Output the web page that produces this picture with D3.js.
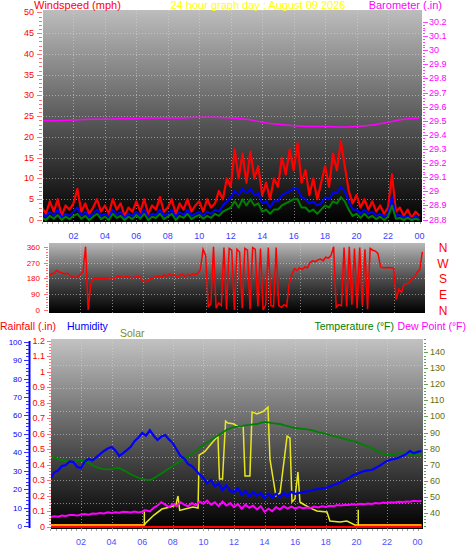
<!DOCTYPE html>
<html><head><meta charset="utf-8">
<script src="https://cdn.jsdelivr.net/npm/d3@7"></script>
<style>body{margin:0;background:#fff;} svg{display:block;font-family:"Liberation Sans",Arial,sans-serif;}</style>
</head><body><svg id="c" width="470" height="554"></svg>
<script>
// ---------- DATA ----------
const hourLabels = ["02","04","06","08","10","12","14","16","18","20","22","00"];
const hourLabelAt = [2,4,6,8,10,12,14,16,18,20,22,24];
const windTicks = [0,5,10,15,20,25,30,35,40,45,50];
const baroTicks = [28.8,28.9,29,29.1,29.2,29.3,29.4,29.5,29.6,29.7,29.8,29.9,30,30.1,30.2];
const dirTicks = [0,90,180,270,360];
const compassLabels = ["N","W","S","E","N"];
const compassDeg = [360,270,180,90,0];
const humTicks = [0,10,20,30,40,50,60,70,80,90,100];
const rainTicks = [0,0.1,0.2,0.3,0.4,0.5,0.6,0.7,0.8,0.9,1,1.1,1.2];
const tempTicks = [40,50,60,70,80,90,100,110,120,130,140];

// wind, 15-minute samples 00:00..24:00 (mph)
const windGust = [3,1.5,4.5,2,5,1,3.5,2.5,4,
  7.5,2,4,1.5,3,5,2,3.5,
  1.5,5,2.5,4,1,3,2,4.5,
  2,5,1.5,3.5,2.5,5.5,2,3,
  5,1.5,4,2.5,5,2,3.5,4.5,
  2,5,3,
  4,7,5,10,8,17,10,16,9,16.5,10,13,6,9,5,10,8,15,11,17,12,18.5,9,12,6,10,5,9,13,8,16,12,19,13,7,4,6,3,5,2.5,4.5,2,3.5,1.5,3,11,2,3,1,2.5,0.5,2,1];
const windAvg = [1.5,0.8,2,1,2.5,0.5,1.5,1,2,
  3,1,2,0.8,1.5,2.5,1,1.5,
  0.8,2.5,1.2,2,0.5,1.5,1,2,
  1,2.5,0.8,1.5,1.2,2.5,1,1.5,
  2.5,0.8,2,1.2,2.5,1,1.5,2,
  1,2,1.5,2.5,2,3.5,4.5,5.5,
  7,6,7.5,6.5,7.5,6,6.5,4,
  4.5,3,4.5,4.5,6,6.5,7,7.5,
  7.5,5.5,5,4,4.5,3.5,4,5.5,
  5,6.5,6.5,8,7,4.5,2.5,2.5,
  1.5,2.5,1.5,2,1,1.5,0.8,1.5,
  5.5,1,1.2,0.5,1,0.3,0.8,0.5];
const windLow = [0.5,0,1,0.3,1.2,0,0.8,0.2,1,
  1.5,0.3,1,0,0.8,1.5,0.2,0.8,
  0,1.5,0.5,1,0,0.8,0.2,1.2,
  0.3,1.5,0,0.8,0.5,1.5,0.2,0.8,
  1.5,0,1,0.5,1.5,0.2,0.8,1.2,
  0.3,1,0.5,1.5,1,2,2.5,3,
  4.5,3,5,3.5,5,3.5,4,2,
  2.5,1.5,2.5,2.5,3.5,4,4.5,5,
  5,3,3,2,2.5,1.5,2.5,3.5,
  3,4.5,4,5.5,4.5,2.5,1,1.5,
  0.5,1.5,0.5,1,0.2,0.8,0,0.8,
  3.5,0.3,0.5,0,0.5,0,0.3,0];
// barometer, hourly (in)
const baro = [29.50,29.50,29.505,29.51,29.51,29.515,29.515,29.52,29.52,29.52,29.525,29.525,29.52,29.51,29.49,29.475,29.465,29.46,29.46,29.455,29.46,29.47,29.49,29.51,29.52];
// wind direction, 10-minute samples (degrees)
const windDir = [200,205,210,225, 215,210,205,210, 195,190,185,188, 205,215, 360, 0, 150,
  175,180,178,182,180,178,
  183,185,180,190,192,185,188,190,186,184,188,190,187,
  165,160,170,178,185,
  190,195,185,200,190,205,195,200,185,195,205,190,200,195,205,
  200,210,230,345,310,
  20,35,360,10,40,25,355,5,350,340,0,345,330,10,350,340,5,355,345,20,350,0,30,355,25,20,355,25,15,30,20,150,
  200,235,225,240,230,245,240,270,280,275,285,290,280,300,295,310,
  360,15,30,25,355,20,360,30,350,10,355,25,345,5,350,340,335,320,
  245,240,240,242,240,238,
  60,120,100,150,150,155,180,185,215,230,330];
// bottom panel, 15-minute samples 00:00..24:15
const humidity = [25.5,29,30,32.5, 33,35,34.7,32, 31.5,35,36.4,35.5, 37.4,39,40.7,42,
  42.9,41,38,39.5, 41.2,43,46,48, 50.5,49,52,49, 46.7,48.5,49.4,47,
  45,41.5,38,36.5, 33.6,32.5,30.4,28, 26,23,25,21.5, 23,19.5,22,19,
  18.4,20.5,17,19, 16,18.5,16.5,18, 15,17.5,15.5,17.5, 15.5,18,16,18.5,
  17.4,18,18.4,18.8, 19,19.8,20,20.4, 20.6,21.5,22.2,23, 23.9,25,26,27.4,
  28.2,29,29.8,30.2, 30.4,31.5,32.6,34, 35.3,36,36.4,37, 38,39,40.7,39.5, 40.2,40.7];
const temperature = [76,74.5,73.5,72.6, 72.2,71.7,71.6,72.5, 72.9,72,71,69.6, 68.5,67.6,67.2,67,
  67.2,67.8,67.9,66.7, 65.4,64,62.9,61.8, 61,60.6,60.4,61.5, 62.9,64.4,66,67.6,
  69.1,70.7,72.2,73.8, 75.3,76.9,78.5,80.4, 82.2,83.8,85.3,86.9, 88.4,90,91.6,92.6,
  93.4,93.6,94,94.5, 94.7,95.1,95.3,96, 96.6,96.3,95.9,95.6, 95.3,94.6,94,93.4,
  92.8,92.5,92.2,91.9, 91.6,91,90.3,89.7, 89.1,88.4,87.8,87.2, 86.6,85.9,85.3,84.7,
  84.1,83.1,82.2,81.2, 80.3,79,77.8,76.8, 76,76.4,76.6,77.1, 77.2,76.5,76,76.2, 76,75.6];
const dewPoint = [37.3,37.8,37.5,38.2, 38,38.5,38.6,38.2, 38.9,39.2,38.8,39.5, 39.3,39.8,39.5,40.2,
  39.8,40.3,40,40.6, 40.4,40.1,40.8,40.2, 40.6,41.5,40.8,43, 44.5,46.5,45,43.5,
  45.5,44,46.5,45, 44,46,44.5,47, 45.5,47.5,45,46.5, 44,47,44.5,46,
  43.5,45.5,42.5,45, 43,44.5,42,44, 40.5,42.5,41,43.5, 42,44,42.5,43.8,
  42.5,43.5,42.8,43.3, 43,43.8,43.2,44, 43.6,44.3,44,44.8, 44.5,45,44.8,45.3,
  44.9,45.5,45.2,45.7, 45.4,46,45.8,46.3, 46,46.5,46.4,46.8, 46.6,47,46.8,47.4, 47.2,47.3];
const rainfall = [0,0,0,0,0,0,0,0,0,0,0,0,0,0,0,0,0,0,0,0,0,0,0,0,0];
const solarHours = [0,6.15,6.2,6.77,7.29,7.82,8.2,8.34,8.45,8.8,9.32,9.65,9.72,10.1,10.5,10.95,11.05,11.25,11.45,11.6,11.95,12.3,12.6,12.72,13.04,13.18,13.5,13.9,14.22,14.35,14.74,15.01,15.47,15.66,15.79,15.98,16.18,16.31,16.51,17.0,17.42,18.08,18.27,18.92,19.38,19.9,24.25];
const solarValues = [0,0,10,65,104,117,130,189,95,104,117,111,456,480,528,580,300,300,678,665,660,640,645,320,320,737,725,740,769,430,189,209,580,567,150,170,346,150,137,110,91,85,26,20,26,0,0];
const sunEvents = [6.14, 20.12];

// ---------- HELPERS ----------
const svg = d3.select("#c");
const defs = svg.append("defs");
function grad(id, top, mid){
  const g = defs.append("linearGradient").attr("id",id).attr("x1",0).attr("y1",0).attr("x2",0).attr("y2",1);
  g.append("stop").attr("offset","0%").attr("stop-color",top);
  g.append("stop").attr("offset","50%").attr("stop-color",mid);
  g.append("stop").attr("offset","100%").attr("stop-color","#000");
}
grad("gTop","#bdbdbd","#5c5c5c");
grad("gMid","#b8b8b8","#4e4e4e");
grad("gBot","#c2c2c2","#5e5e5e");
function clip(id,x,y,w,h){ defs.append("clipPath").attr("id",id).append("rect").attr("x",x).attr("y",y).attr("width",w).attr("height",h); }
const seq = (arr, step) => arr.map((v,i)=>({t:i*step, v}));

// ---------- TOP PANEL ----------
const P1 = {x:43, y:10, w:379, h:212};
const xTop = d3.scaleLinear([0,24],[42,419.5]);
const yWind = d3.scaleLinear([0,50],[220,12.4]);
const yBaro = d3.scaleLinear([28.8,30.2],[219.5,22]);
svg.append("rect").attr("x",P1.x).attr("y",P1.y).attr("width",P1.w).attr("height",P1.h).attr("fill","url(#gTop)");
clip("c1",P1.x,P1.y,P1.w,P1.h);
const g1 = svg.append("g").attr("clip-path","url(#c1)");
const gridStyle = s => s.attr("stroke","#d8d8d8").attr("stroke-opacity",0.55).attr("stroke-dasharray","1,2").attr("stroke-width",1);
g1.selectAll(".hg").data(windTicks.slice(1,-1)).join("line").attr("x1",P1.x).attr("x2",P1.x+P1.w)
  .attr("y1",d=>Math.round(yWind(d))+0.5).attr("y2",d=>Math.round(yWind(d))+0.5).call(gridStyle);
g1.selectAll(".vg").data(hourLabelAt.slice(0,-1)).join("line").attr("y1",P1.y).attr("y2",P1.y+P1.h)
  .attr("x1",d=>Math.round(xTop(d))+0.5).attr("x2",d=>Math.round(xTop(d))+0.5).call(gridStyle);
const lineW = d3.line().x(d=>xTop(d.t)).y(d=>yWind(d.v));
[[windGust,"#ff0000",2.2],[windAvg,"#0000ff",2],[windLow,"#008000",2]].forEach(([arr,c,w])=>{
  g1.append("path").attr("d",lineW(seq(arr,0.25))).attr("fill","none").attr("stroke",c).attr("stroke-width",w).attr("stroke-linejoin","round");
});
g1.append("path").attr("d",d3.line().x(d=>xTop(d.t)).y(d=>yBaro(d.v)).curve(d3.curveMonotoneX)(seq(baro,1)))
  .attr("fill","none").attr("stroke","#ff00ff").attr("stroke-width",1.5);

// left wind axis
const minorWind = d3.range(0,50.01,1);
svg.selectAll(".wt").data(minorWind).join("line").attr("x1",d=>d%5===0?37:39).attr("x2",42)
  .attr("y1",d=>Math.round(yWind(d))+0.5).attr("y2",d=>Math.round(yWind(d))+0.5).attr("stroke","#ff7070").attr("stroke-width",1);
svg.selectAll(".wl").data(windTicks).join("text").attr("x",34).attr("y",d=>yWind(d)+3).attr("text-anchor","end")
  .attr("fill","#ff0000").attr("font-size","9px").text(d=>d);
// right baro axis
const minorBaro = d3.range(0,71).map(i=>28.8+i*0.02).filter(v=>v<=30.25);
svg.selectAll(".bt").data(minorBaro).join("line").attr("x1",423).attr("x2",(d,i)=>i%5===0?428:425)
  .attr("y1",d=>Math.round(yBaro(d))+0.5).attr("y2",d=>Math.round(yBaro(d))+0.5).attr("stroke","#ff40ff").attr("stroke-width",1);
svg.selectAll(".bl").data(baroTicks).join("text").attr("x",429).attr("y",d=>yBaro(d)+3)
  .attr("fill","#ff00ff").attr("font-size","9px").text(d=>+d.toFixed(1));
// x labels (top)
svg.selectAll(".xt").data(d3.range(0,24.01,1/3)).join("line").attr("x1",d=>Math.round(xTop(d))+0.5).attr("x2",d=>Math.round(xTop(d))+0.5)
  .attr("y1",P1.y+P1.h).attr("y2",P1.y+P1.h+2).attr("stroke","#a0a0a0");
svg.selectAll(".xl").data(hourLabels).join("text").attr("x",(d,i)=>xTop(hourLabelAt[i])).attr("y",239).attr("text-anchor","middle")
  .attr("fill","#3c3cff").attr("font-size","9px").text(d=>d);

// headers
const headTop = [["Windspeed (mph)",34,"start","#ff0000"],["24 hour graph day : August 09 2026",258,"middle","#ffff00"],["Barometer (.in)",442,"end","#ff00ff"]];
svg.selectAll(".ht").data(headTop).join("text").attr("x",d=>d[1]).attr("y",9).attr("text-anchor",d=>d[2]).attr("fill",d=>d[3])
  .attr("font-size","11px").text(d=>d[0]);

// ---------- MIDDLE PANEL ----------
const P2 = {x:49, y:243, w:376, h:70};
const xMid = d3.scaleLinear([0,24],[49,425]);
const yDir = d3.scaleLinear([0,360],[310,246.7]);
svg.append("rect").attr("x",P2.x).attr("y",P2.y).attr("width",P2.w).attr("height",P2.h).attr("fill","url(#gMid)");
clip("c2",P2.x,P2.y,P2.w,P2.h);
const g2 = svg.append("g").attr("clip-path","url(#c2)");
g2.selectAll(".hg").data([90,180,270]).join("line").attr("x1",P2.x).attr("x2",P2.x+P2.w)
  .attr("y1",d=>Math.round(yDir(d))+0.5).attr("y2",d=>Math.round(yDir(d))+0.5).call(gridStyle);
g2.selectAll(".vg").data(hourLabelAt.slice(0,-1)).join("line").attr("y1",P2.y).attr("y2",P2.y+P2.h)
  .attr("x1",d=>Math.round(xMid(d))+0.5).attr("x2",d=>Math.round(xMid(d))+0.5).call(gridStyle);
g2.append("path").attr("d",d3.line().x(d=>xMid(d.t)).y(d=>yDir(d.v))(seq(windDir,1/6)))
  .attr("fill","none").attr("stroke","#ff0000").attr("stroke-width",1.5);
svg.selectAll(".dt").data(d3.range(0,361,15)).join("line").attr("x1",d=>d%90===0?44:46).attr("x2",48)
  .attr("y1",d=>Math.round(yDir(d))+0.5).attr("y2",d=>Math.round(yDir(d))+0.5).attr("stroke","#ff7070");
svg.selectAll(".dl").data(dirTicks).join("text").attr("x",40).attr("y",d=>yDir(d)+3).attr("text-anchor","end")
  .attr("fill","#ff0000").attr("font-size","8px").text(d=>d);
svg.selectAll(".cl").data(compassLabels).join("text").attr("x",443).attr("y",(d,i)=>yDir(compassDeg[i])+5).attr("text-anchor","middle")
  .attr("fill","#ff0000").attr("font-size","12px").text(d=>d);

// ---------- BOTTOM PANEL ----------
const P3 = {x:51, y:339, w:372, h:190};
const xBot = d3.scaleLinear([0,24],[50.4,417.6]);
const yHum = d3.scaleLinear([0,100],[526,341.7]);
const yRain = d3.scaleLinear([0,1.2],[527,340.5]);
const yTemp = d3.scaleLinear([40,140],[512.7,352.3]);
const ySolar = d3.scaleLinear([0,1200],[525,341]);
svg.append("rect").attr("x",P3.x).attr("y",P3.y).attr("width",P3.w).attr("height",P3.h).attr("fill","url(#gBot)");
clip("c3",P3.x,P3.y,P3.w,P3.h);
const g3 = svg.append("g").attr("clip-path","url(#c3)");
g3.selectAll(".hg").data(d3.range(1,8).map(i=>i*12.5)).join("line").attr("x1",P3.x).attr("x2",P3.x+P3.w)
  .attr("y1",d=>Math.round(yHum(d))+0.5).attr("y2",d=>Math.round(yHum(d))+0.5).call(gridStyle);
g3.selectAll(".vg").data(hourLabelAt.slice(0,-1)).join("line").attr("y1",P3.y).attr("y2",P3.y+P3.h)
  .attr("x1",d=>Math.round(xBot(d))+0.5).attr("x2",d=>Math.round(xBot(d))+0.5).call(gridStyle);
// rain
g3.append("path").attr("d",d3.line().x(d=>xBot(d.t)).y(d=>yRain(d.v))(seq(rainfall,1).concat([{t:24.3,v:rainfall[24]}])))
  .attr("fill","none").attr("stroke","#ff0000").attr("stroke-width",2);
// solar
const solar = solarHours.map((t,i)=>({t, v:solarValues[i]}));
g3.append("path").attr("d",d3.line().x(d=>xBot(d.t)).y(d=>ySolar(d.v))(solar))
  .attr("fill","none").attr("stroke","#e8e820").attr("stroke-width",1.5);
g3.append("path").attr("d",d3.line().defined(d=>d.v===0).x(d=>xBot(d.t)).y(d=>ySolar(d.v))(solar))
  .attr("fill","none").attr("stroke","#ff9a00").attr("stroke-width",2);
g3.selectAll(".sun").data(sunEvents).join("line").attr("x1",d=>xBot(d)).attr("x2",d=>xBot(d))
  .attr("y1",ySolar(0)).attr("y2",ySolar(100)).attr("stroke","#e8e820").attr("stroke-width",1.5);
// temp / humidity / dew
const lineB = y => d3.line().x(d=>xBot(d.t)).y(d=>y(d.v));
g3.append("path").attr("d",lineB(yTemp)(seq(temperature,0.25))).attr("fill","none").attr("stroke","#008000").attr("stroke-width",1.8);
g3.append("path").attr("d",lineB(yHum)(seq(humidity,0.25))).attr("fill","none").attr("stroke","#0000ff").attr("stroke-width",2.2);
g3.append("path").attr("d",lineB(yTemp)(seq(dewPoint,0.25))).attr("fill","none").attr("stroke","#ff00ff").attr("stroke-width",2);

// humidity axis
svg.append("line").attr("x1",29.5).attr("x2",29.5).attr("y1",341).attr("y2",528).attr("stroke","#0000ff").attr("stroke-width",2);
svg.selectAll(".ht2").data(d3.range(0,101,2)).join("line").attr("x1",d=>d%10===0?24:26).attr("x2",29)
  .attr("y1",d=>Math.round(yHum(d))+0.5).attr("y2",d=>Math.round(yHum(d))+0.5).attr("stroke","#3030ff");
svg.selectAll(".hl").data(humTicks).join("text").attr("x",22).attr("y",d=>yHum(d)+3).attr("text-anchor","end")
  .attr("fill","#0000ff").attr("font-size","8px").text(d=>d);
// rain axis
svg.selectAll(".rt").data(d3.range(0,61).map(i=>i*0.02)).join("line").attr("x1",(d,i)=>i%5===0?47:49).attr("x2",51)
  .attr("y1",d=>Math.round(yRain(d))+0.5).attr("y2",d=>Math.round(yRain(d))+0.5).attr("stroke","#ff7070");
svg.selectAll(".rl").data(rainTicks).join("text").attr("x",45).attr("y",d=>yRain(d)+3).attr("text-anchor","end")
  .attr("fill","#ff0000").attr("font-size","9px").text(d=>+d.toFixed(1));
// temperature axis
svg.selectAll(".tt").data(d3.range(32,148.1,2)).join("line").attr("x1",424).attr("x2",d=>d%10===0?428:426)
  .attr("y1",d=>Math.round(yTemp(d))+0.5).attr("y2",d=>Math.round(yTemp(d))+0.5).attr("stroke","#60a060");
svg.selectAll(".tl").data(tempTicks).join("text").attr("x",430).attr("y",d=>yTemp(d)+3)
  .attr("fill","#5f6f10").attr("font-size","9px").text(d=>d);
// x axis bottom
svg.selectAll(".xb").data(d3.range(0,24.3,1/3)).join("line").attr("x1",d=>Math.round(xBot(d))+0.5).attr("x2",d=>Math.round(xBot(d))+0.5)
  .attr("y1",P3.y+P3.h).attr("y2",P3.y+P3.h+2).attr("stroke","#a0a0a0");
svg.selectAll(".xbl").data(hourLabels).join("text").attr("x",(d,i)=>xBot(hourLabelAt[i])).attr("y",545).attr("text-anchor","middle")
  .attr("fill","#5050ff").attr("font-size","9px").text(d=>d);
// bottom headers
const headBot = [["Rainfall (.in)",0,330,"start","#ff0000"],["Humidity",67,330,"start","#0000ff"],["Solar",120,337,"start","#8a8a00"],
  ["Temperature (°F)",394,330,"end","#008000"],["Dew Point (°F)",466,330,"end","#ff00ff"]];
svg.selectAll(".hb").data(headBot).join("text").attr("x",d=>d[1]).attr("y",d=>d[2]).attr("text-anchor",d=>d[3]).attr("fill",d=>d[4])
  .attr("font-size","10.5px").text(d=>d[0]);
</script>
</body></html>
